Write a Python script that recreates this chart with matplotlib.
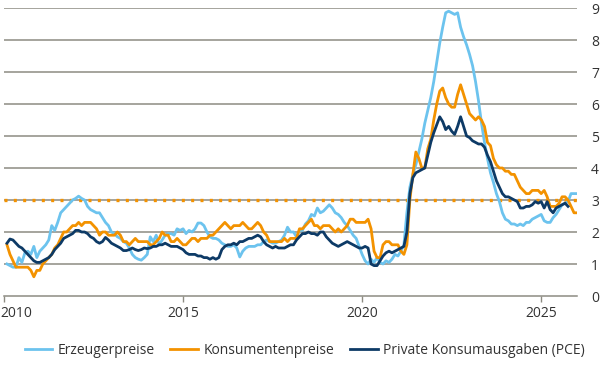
import numpy as np
import matplotlib
matplotlib.use('Agg')
import matplotlib.pyplot as plt
import matplotlib.transforms as mtransforms

plt.rcParams['font.family'] = ['Open Sans', 'DejaVu Sans']

# Monatswerte in % ggü. Vorjahr, ab Jan 2010
ppi = [1.0, 0.95, 0.9, 0.9, 1.2, 1.05, 1.35, 1.4, 1.3, 1.55, 1.2, 1.4,
       1.5, 1.6, 1.75, 2.2, 2.05, 2.3, 2.6, 2.7, 2.8, 2.9, 3.0, 3.05,
       3.12, 3.05, 3.0, 2.8, 2.7, 2.65, 2.6, 2.6, 2.45, 2.3, 2.2, 2.0,
       1.95, 1.85, 1.8, 1.7, 1.65, 1.5, 1.3, 1.2, 1.15, 1.12, 1.2, 1.3,
       1.85, 1.7, 1.9, 1.6, 1.75, 1.9, 1.95, 1.95, 1.9, 2.1, 2.05, 2.1,
       1.95, 2.05, 2.0, 2.1, 2.28, 2.28, 2.2, 2.0, 1.85, 1.8, 1.8, 1.75,
       1.65, 1.6, 1.55, 1.55, 1.6, 1.5, 1.22, 1.4, 1.5, 1.55, 1.55, 1.55,
       1.6, 1.6, 1.7, 1.75, 1.7, 1.65, 1.65, 1.7, 1.75, 1.9, 2.15, 2.0,
       2.0, 1.85, 2.05, 2.05, 2.25, 2.35, 2.55, 2.5, 2.75, 2.6, 2.65, 2.75,
       2.85, 2.75, 2.6, 2.55, 2.45, 2.3, 2.2, 2.05, 1.9, 1.8, 1.55, 1.3,
       1.1, 1.0, 1.15, 1.05, 1.2, 1.05, 1.0, 1.1, 1.05, 1.15, 1.3, 1.25,
       1.4, 1.6, 2.6, 3.4, 3.8, 4.1, 4.5, 4.9, 5.4, 5.8, 6.2, 6.7,
       7.3, 7.9, 8.4, 8.85, 8.9, 8.85, 8.8, 8.85, 8.4, 8.1, 7.85, 7.55,
       7.2, 6.7, 6.1, 5.4, 4.8, 4.3, 3.85, 3.55, 3.2, 2.95, 2.6, 2.4,
       2.35, 2.25, 2.25, 2.2, 2.25, 2.2, 2.3, 2.3, 2.4, 2.45, 2.5, 2.55,
       2.35, 2.3, 2.3, 2.45, 2.55, 2.7, 2.85, 2.9, 2.95, 3.2, 3.2, 3.2]

cpi = [1.6, 1.3, 1.1, 0.9, 0.9, 0.9, 0.9, 0.9, 0.8, 0.6, 0.8, 0.8,
       1.0, 1.1, 1.2, 1.3, 1.5, 1.6, 1.8, 2.0, 2.0, 2.1, 2.2, 2.2,
       2.3, 2.2, 2.3, 2.3, 2.3, 2.2, 2.1, 1.9, 2.0, 2.0, 1.9, 1.9,
       1.9, 2.0, 1.9, 1.7, 1.7, 1.6, 1.7, 1.8, 1.7, 1.7, 1.7, 1.7,
       1.6, 1.6, 1.7, 1.8, 2.0, 1.9, 1.9, 1.7, 1.7, 1.8, 1.7, 1.6,
       1.6, 1.7, 1.8, 1.8, 1.7, 1.8, 1.8, 1.8, 1.9, 1.9, 2.0, 2.1,
       2.2, 2.3, 2.2, 2.1, 2.2, 2.2, 2.2, 2.3, 2.2, 2.1, 2.1, 2.2,
       2.3, 2.2, 2.0, 1.9, 1.7, 1.7, 1.7, 1.7, 1.7, 1.8, 1.7, 1.8,
       1.8, 1.8, 2.1, 2.1, 2.2, 2.3, 2.4, 2.2, 2.2, 2.1, 2.2, 2.2,
       2.2, 2.1, 2.0, 2.1, 2.0, 2.1, 2.2, 2.4, 2.4, 2.3, 2.3, 2.3,
       2.3, 2.4, 2.1, 1.4, 1.2, 1.2, 1.6, 1.7, 1.7, 1.6, 1.6, 1.6,
       1.4, 1.3, 1.6, 3.0, 3.8, 4.5, 4.3, 4.0, 4.0, 4.6, 4.9, 5.5,
       6.0, 6.4, 6.5, 6.2, 6.0, 5.9, 5.9, 6.3, 6.6, 6.3, 6.0, 5.7,
       5.6, 5.5, 5.6, 5.5, 5.3, 4.8, 4.7, 4.3, 4.1, 4.0, 4.0, 3.9,
       3.9, 3.8, 3.8, 3.6, 3.4, 3.3, 3.2, 3.2, 3.3, 3.3, 3.3, 3.2,
       3.3, 3.1, 2.8, 2.8, 2.8, 2.9, 3.1, 3.1, 3.0, np.nan, 2.6, 2.6]

pce = [1.65, 1.78, 1.75, 1.65, 1.55, 1.5, 1.4, 1.3, 1.2, 1.1, 1.05, 1.05,
       1.1, 1.15, 1.2, 1.3, 1.45, 1.55, 1.65, 1.8, 1.85, 1.9, 1.95, 2.05,
       2.05, 2.0, 2.0, 1.95, 1.85, 1.8, 1.7, 1.65, 1.7, 1.83, 1.75, 1.65,
       1.6, 1.55, 1.5, 1.42, 1.42, 1.45, 1.5, 1.45, 1.42, 1.45, 1.5, 1.48,
       1.5, 1.55, 1.55, 1.6, 1.6, 1.65, 1.6, 1.55, 1.55, 1.55, 1.5, 1.45,
       1.35, 1.3, 1.3, 1.3, 1.25, 1.25, 1.2, 1.2, 1.15, 1.2, 1.15, 1.2,
       1.45, 1.55, 1.6, 1.6, 1.65, 1.6, 1.7, 1.7, 1.75, 1.8, 1.8, 1.85,
       1.9, 1.85, 1.7, 1.6, 1.55, 1.5, 1.55, 1.5, 1.5, 1.5, 1.55, 1.6,
       1.6, 1.75, 1.85, 1.95, 1.95, 2.0, 1.95, 1.95, 1.9, 2.0, 2.0, 1.85,
       1.75, 1.65, 1.6, 1.55, 1.6, 1.65, 1.7, 1.65, 1.6, 1.55, 1.5, 1.5,
       1.55, 1.5, 1.0, 0.95, 0.95, 1.1, 1.25, 1.35, 1.4, 1.35, 1.4, 1.45,
       1.5, 1.55, 2.0, 3.2, 3.7, 3.85, 3.9, 3.95, 4.0, 4.4, 4.8, 5.1,
       5.35, 5.6, 5.45, 5.2, 5.3, 5.15, 5.05, 5.3, 5.6, 5.3, 5.0, 4.95,
       4.85, 4.8, 4.75, 4.75, 4.65, 4.4, 4.2, 3.9, 3.6, 3.4, 3.2, 3.1,
       3.1, 3.05, 3.0, 2.95, 2.75, 2.75, 2.8, 2.8, 2.85, 2.95, 2.9, 2.95,
       2.75, 2.95, 2.7, 2.6, 2.75, 2.8, 2.85, 2.9, 2.8]

target = 3.0
labels = ['Erzeugerpreise', 'Konsumentenpreise', 'Private Konsumausgaben (PCE)']
colors = ['#6cc3ee', '#f39200', '#0d3a66']


def months(n):
    # Monatsende als Dezimaljahr
    return 2010 + (np.arange(n) + 1) / 12.0


fig = plt.figure(figsize=(6, 3.8), dpi=100)
ax = fig.add_axes([4 / 600, 1 - 296 / 380, 573 / 600, 288 / 380])

grid_col = '#8d8b82'
for v in range(1, 10):
    ax.axhline(v, color=grid_col, lw=1.1, zorder=1)

ax.axhline(target, color='#f39200', lw=2.4, linestyle=(0, (0.9, 1.9)), zorder=2)

for vals, lab, c in zip([ppi, cpi, pce], labels, colors):
    y = np.array(vals, dtype=float)
    x = months(len(y))
    ok = ~np.isnan(y)
    ax.plot(x[ok], y[ok], color=c, lw=2.0, label=lab, zorder=3,
            solid_joinstyle='round')

ax.set_xlim(2010, 2026)
ax.set_ylim(0, 9)
for s in ['top', 'left', 'right']:
    ax.spines[s].set_visible(False)
ax.spines['bottom'].set_color(grid_col)
ax.spines['bottom'].set_linewidth(1.1)

ax.set_xticks([2010, 2015, 2020, 2025])
ax.set_xticklabels(['2010', '2015', '2020', '2025'])
ax.tick_params(axis='x', length=4, width=1.0, color=grid_col, labelsize=10,
               labelcolor='#333333', pad=3)
first = ax.get_xticklabels()[0]
first.set_horizontalalignment('left')
first.set_transform(first.get_transform() +
                    mtransforms.ScaledTranslation(-4 / 100, 0, fig.dpi_scale_trans))

ax.yaxis.tick_right()
ax.set_yticks(range(0, 10))
ax.tick_params(axis='y', length=0, labelsize=10, labelcolor='#333333', pad=10)

fig.legend(loc='center', bbox_to_anchor=(0.508, 1 - 350 / 380), ncol=3,
           frameon=False, fontsize=10, handlelength=2.0, handletextpad=0.4,
           columnspacing=1.1, labelcolor='#333333')

fig.savefig('out.png', dpi=100)
